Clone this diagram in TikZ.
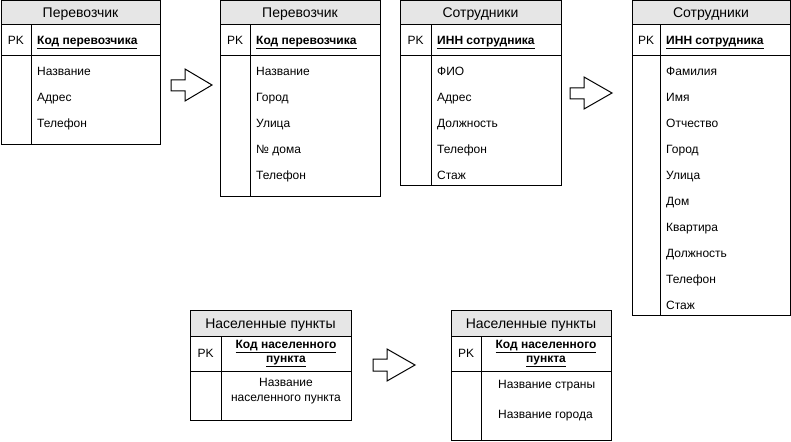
\documentclass[tikz,border=0pt]{standalone}
\usepackage{fontspec}
\setmainfont{Liberation Sans}
\definecolor{hdr}{RGB}{230,230,230}
\newcommand{\ertab}[8]{% x1 x2 xd ytop yh yk ybot name
  \fill[hdr] (#1,#4) rectangle (#2,#5);
  \draw[tabline] (#1,#4) rectangle (#2,#7);
  \draw[tabline] (#1,#5) -- (#2,#5);
  \draw[tabline] (#1,#6) -- (#2,#6);
  \draw[tabline] (#3,#5) -- (#3,#7);
  \coordinate (#8-hc) at ({(#1+#2)/2},{(#4+#5)/2});
  \coordinate (#8-pk) at ({(#1+#3)/2},{(#5+#6)/2});
  \coordinate (#8-kc) at ({(#3+#2)/2},{(#5+#6)/2});
}
\newcommand{\erarrow}[7]{% left base tip top bottom shafttop shaftbottom
  \draw[tabline,fill=white] (#1,#6) -- (#2,#6) -- (#2,#4) -- (#3,{(#4+#5)/2}) -- (#2,#5) -- (#2,#7) -- (#1,#7) -- cycle;
}
\begin{document}
\begin{tikzpicture}[x=1pt,y=-1pt,
  tabline/.style={draw=black,line width=1pt},
  title/.style={inner sep=0pt,text height=10pt,text depth=0pt,font=\fontsize{14}{16}\selectfont},
  pktext/.style={inner sep=0pt,text height=8.6pt,text depth=0pt,font=\fontsize{12}{14}\selectfont},
  keytext/.style={inner sep=0pt,anchor=west,text height=8.6pt,text depth=0pt,font=\fontsize{12}{14}\selectfont\bfseries},
  keyc/.style={inner sep=0pt,align=center,font=\fontsize{12}{14}\selectfont\bfseries},
  attr/.style={inner sep=0pt,anchor=west,text height=8.6pt,text depth=0pt,font=\fontsize{12}{14}\selectfont},
  attrc/.style={inner sep=0pt,align=center,font=\fontsize{12}{15}\selectfont}]
\useasboundingbox (0,0) rectangle (791,441);

% Table 1
\ertab{1}{160}{31}{0.5}{25}{56}{144}{t1}
\node[title] (t1h) at (t1-hc) {Перевозчик};
\node[pktext] (t1p) at (t1-pk) {PK};
\node[keytext] (t1k) at (37,40.5) {\underline{Код перевозчика}};
\node[attr] (t1a1) at (37,71) {Название};
\node[attr] (t1a2) at (37,97) {Адрес};
\node[attr] (t1a3) at (37,123) {Телефон};

% Table 2
\ertab{220}{380}{250}{0.5}{25}{56}{196}{t2}
\node[title] (t2h) at (t2-hc) {Перевозчик};
\node[pktext] (t2p) at (t2-pk) {PK};
\node[keytext] (t2k) at (256,40.5) {\underline{Код перевозчика}};
\node[attr] (t2a1) at (256,71) {Название};
\node[attr] (t2a2) at (256,97) {Город};
\node[attr] (t2a3) at (256,123) {Улица};
\node[attr] (t2a4) at (256,149) {№ дома};
\node[attr] (t2a5) at (256,175) {Телефон};

% Table 3
\ertab{400}{561}{431}{0.5}{25}{56}{185}{t3}
\node[title] (t3h) at (t3-hc) {Сотрудники};
\node[pktext] (t3p) at (t3-pk) {PK};
\node[keytext] (t3k) at (437,40.5) {\underline{ИНН сотрудника}};
\node[attr] (t3a1) at (437,71) {ФИО};
\node[attr] (t3a2) at (437,97) {Адрес};
\node[attr] (t3a3) at (437,123) {Должность};
\node[attr] (t3a4) at (437,149) {Телефон};
\node[attr] (t3a5) at (437,175) {Стаж};

% Table 4
\ertab{632}{790}{660}{0.5}{25}{56}{315}{t4}
\node[title] (t4h) at (t4-hc) {Сотрудники};
\node[pktext] (t4p) at (t4-pk) {PK};
\node[keytext] (t4k) at (666,40.5) {\underline{ИНН сотрудника}};
\node[attr] (t4a1) at (666,71) {Фамилия};
\node[attr] (t4a2) at (666,97) {Имя};
\node[attr] (t4a3) at (666,123) {Отчество};
\node[attr] (t4a4) at (666,149) {Город};
\node[attr] (t4a5) at (666,175) {Улица};
\node[attr] (t4a6) at (666,201) {Дом};
\node[attr] (t4a7) at (666,227) {Квартира};
\node[attr] (t4a8) at (666,253) {Должность};
\node[attr] (t4a9) at (666,279) {Телефон};
\node[attr] (t4a10) at (666,305) {Стаж};

% Table 5
\ertab{190}{351}{221}{310}{336}{371}{420}{t5}
\node[title] (t5h) at (t5-hc) {Населенные пункты};
\node[pktext] (t5p) at (t5-pk) {PK};
\node[keyc] (t5k) at (t5-kc) {\underline{Код населенного}\\\underline{пункта}};
\node[attrc] (t5a1) at (286,391.5) {Название\\населенного пункта};

% Table 6
\ertab{451}{611}{481}{310}{336}{371}{440}{t6}
\node[title] (t6h) at (t6-hc) {Населенные пункты};
\node[pktext] (t6p) at (t6-pk) {PK};
\node[keyc] (t6k) at (t6-kc) {\underline{Код населенного}\\\underline{пункта}};
\node[attr] (t6a1) at (498,384) {Название страны};
\node[attr] (t6a2) at (498,414) {Название города};

% Arrows
\erarrow{171}{185}{212}{69}{101}{80}{91}
\erarrow{570}{584}{612}{77}{109}{88}{99}
\erarrow{373}{387}{415}{349}{381}{359}{371}
\end{tikzpicture}
\end{document}
